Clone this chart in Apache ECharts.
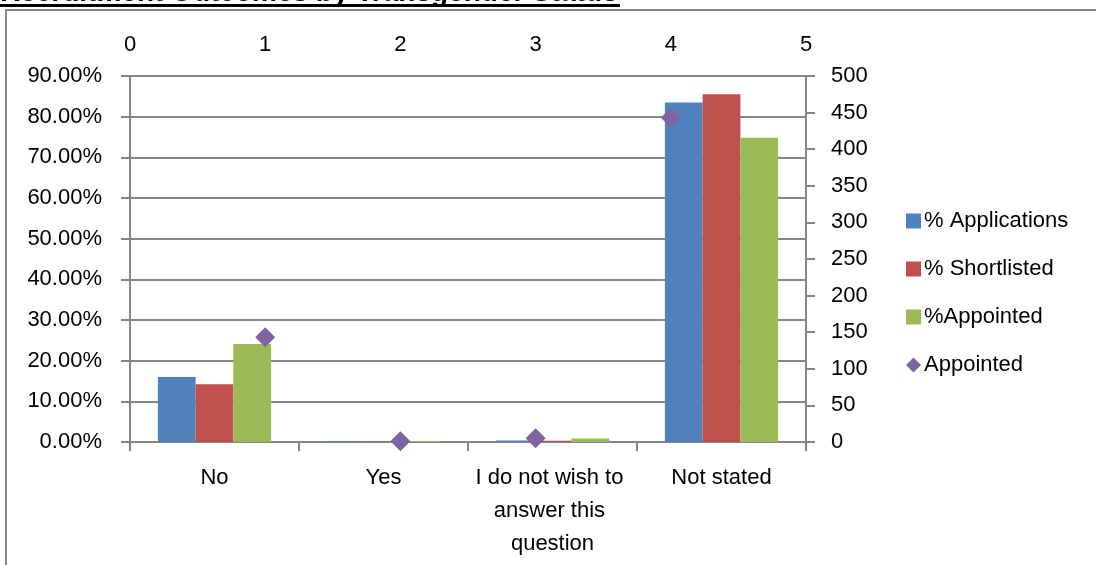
<!DOCTYPE html>
<html><head><meta charset="utf-8">
<script src="https://cdn.jsdelivr.net/npm/echarts@6/dist/echarts.min.js"></script>
<style>html,body{margin:0;padding:0;background:#fff}#c{width:1096px;height:565px}</style>
</head><body><div id="c"></div>
<script>
const titleText = 'Recruitment Outcomes by Transgender Status';
const categories = ['No', 'Yes', 'I do not wish to answer this question', 'Not stated'];
const pctApplications = [16.0, 0.2, 0.35, 83.5];
const pctShortlisted = [14.2, 0.15, 0.3, 85.5];
const pctAppointed = [24.1, 0.17, 0.84, 74.8];
const appointedX = [1, 2, 3, 4];
const appointedCount = [143, 1, 5, 443];
const leftTicks = {min: 0, max: 90, interval: 10};
const rightTicks = {min: 0, max: 500, interval: 50};
const topTicks = {min: 0, max: 5, interval: 1};

const FONT = 'Liberation Sans';
const GRAY = '#868686';
const chart = echarts.init(document.getElementById('c'));
const lbl = {fontFamily: FONT, fontSize: 22, color: '#000'};
chart.setOption({
  animation: false,
  textStyle: {fontFamily: FONT},
  graphic: [
    {type: 'rect', z: -1, shape: {x: 6, y: 10, width: 1200, height: 700}, style: {fill: 'none', stroke: GRAY, lineWidth: 2}},
    {type: 'text', x: 0, y: 7, style: {text: titleText, font: 'bold 28px ' + FONT, fill: '#000', verticalAlign: 'bottom'}},
    {type: 'line', shape: {x1: 0, y1: 5.5, x2: 620, y2: 5.5}, style: {stroke: '#000', lineWidth: 3}}
  ],
  grid: {left: 130, right: 290, top: 76, bottom: 123},
  legend: {
    orient: 'vertical', left: 901, top: 205, itemWidth: 15, itemHeight: 15, itemGap: 26,
    textStyle: {fontFamily: FONT, fontSize: 22, color: '#000', padding: [0, 0, 0, -2]},
    data: [
      {name: '% Applications', icon: 'rect'},
      {name: '% Shortlisted', icon: 'rect'},
      {name: '%Appointed', icon: 'rect'},
      {name: 'Appointed', icon: 'diamond'}
    ]
  },
  xAxis: [
    {type: 'category', data: categories, position: 'bottom',
     axisLine: {lineStyle: {color: GRAY, width: 2}},
     axisTick: {show: true, length: 9, lineStyle: {color: GRAY, width: 2}, alignWithLabel: false},
     axisLabel: Object.assign({margin: 19, interval: 0, width: 172, overflow: 'break', lineHeight: 33}, lbl)},
    {type: 'value', position: 'top', min: topTicks.min, max: topTicks.max, interval: topTicks.interval,
     axisLine: {show: true, lineStyle: {color: GRAY, width: 2}},
     axisTick: {show: true, length: 9, lineStyle: {color: GRAY, width: 2}},
     splitLine: {show: false},
     axisLabel: Object.assign({margin: 20}, lbl)}
  ],
  yAxis: [
    {type: 'value', position: 'left', min: leftTicks.min, max: leftTicks.max, interval: leftTicks.interval,
     axisLine: {show: true, lineStyle: {color: GRAY, width: 2}},
     axisTick: {show: true, length: 9, lineStyle: {color: GRAY, width: 2}},
     splitLine: {show: true, lineStyle: {color: GRAY, width: 2}},
     axisLabel: Object.assign({margin: 28, formatter: v => v.toFixed(2) + '%'}, lbl)},
    {type: 'value', position: 'right', min: rightTicks.min, max: rightTicks.max, interval: rightTicks.interval,
     axisLine: {show: true, lineStyle: {color: GRAY, width: 2}},
     axisTick: {show: true, length: 9, lineStyle: {color: GRAY, width: 2}},
     splitLine: {show: false},
     axisLabel: Object.assign({margin: 25}, lbl)}
  ],
  series: [
    {name: '% Applications', type: 'bar', xAxisIndex: 0, yAxisIndex: 0, data: pctApplications, barGap: '0%', barCategoryGap: '33%',
     itemStyle: {color: '#4F81BD'}},
    {name: '% Shortlisted', type: 'bar', xAxisIndex: 0, yAxisIndex: 0, data: pctShortlisted, barGap: '0%', barCategoryGap: '33%',
     itemStyle: {color: '#C0504D'}},
    {name: '%Appointed', type: 'bar', xAxisIndex: 0, yAxisIndex: 0, data: pctAppointed, barGap: '0%', barCategoryGap: '33%',
     itemStyle: {color: '#9BBB59'}},
    {name: 'Appointed', type: 'scatter', xAxisIndex: 1, yAxisIndex: 1, symbol: 'diamond', symbolSize: 20,
     data: appointedX.map((x, i) => [x, appointedCount[i]]), itemStyle: {color: '#8064A2', opacity: 1}, z: 5}
  ]
});
</script></body></html>
